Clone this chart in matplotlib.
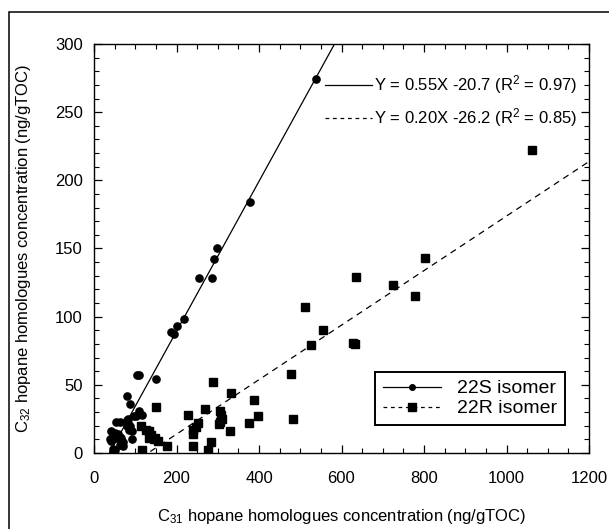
import numpy as np
import matplotlib
matplotlib.use('Agg')
import matplotlib.pyplot as plt
import matplotlib.ticker as mticker
from matplotlib.patches import Rectangle
from matplotlib.lines import Line2D

# 22S isomer (C31, C32) in ng/gTOC
s_c31 = [538, 377, 297, 292, 255, 285, 219, 201, 186, 194,
         104, 109, 150, 79, 87, 109, 103, 97, 116, 83, 79, 53, 62,
         83, 87, 79, 84, 91, 42, 50, 45, 58, 62, 54, 66, 70, 38, 42, 91,
         62, 66, 46, 52, 46, 70]
s_c32 = [274, 184, 150, 142, 128, 128, 98, 93, 89, 87,
         57, 57, 54, 42, 36, 31, 27, 27, 28, 25, 24, 23, 23,
         22, 20, 20, 17, 16, 16, 15, 13, 14, 12, 11, 11, 8, 10, 9, 10,
         6, 7, 3, 2, 1, 5]

# 22R isomer
r_c31 = [115, 126, 133, 139, 134, 146, 156, 149, 151, 177, 117,
         227, 288, 333, 387, 268, 306, 309, 310, 306, 304,
         253, 248, 241, 240, 329, 376, 397, 283, 241, 276,
         478, 483, 511, 554, 527, 628, 632, 636, 726, 777, 802, 1063]
r_c32 = [20, 17, 16, 13, 11, 10, 9, 11, 34, 5, 2,
         28, 52, 44, 39, 32, 31, 28, 25, 23, 21,
         22, 19, 17, 14, 16, 22, 27, 8, 5, 2,
         58, 25, 107, 90, 79, 81, 80, 129, 123, 115, 143, 222]

# regression lines: slope, intercept, r2
s_fit = (0.55, -20.7, 0.97)
r_fit = (0.20, -26.2, 0.85)

plt.rcParams['font.family'] = ['Liberation Sans', 'DejaVu Sans']
plt.rcParams['mathtext.fontset'] = 'custom'
plt.rcParams['mathtext.rm'] = 'Liberation Sans'
plt.rcParams['mathtext.it'] = 'Liberation Sans'

fig = plt.figure(figsize=(6.09, 5.29), dpi=100)
ax = fig.add_axes([94 / 609, 1 - 453 / 529, 495 / 609, 409 / 529])

# outer frame (only left and top edges are visible)
fig.patches.append(Rectangle((8.5 / 609, -0.2), 1.5, 0.2 + 1 - 12 / 529,
                             transform=fig.transFigure, fill=False,
                             edgecolor='black', linewidth=1.1))

xs = np.array([0, 1200])
ax.plot(xs, s_fit[0] * xs + s_fit[1], color='black', lw=0.9)
ax.plot(xs, r_fit[0] * xs + r_fit[1], color='black', lw=0.9, ls=(0, (5, 4)))

ax.plot(s_c31, s_c32, 'o', color='black', markersize=5.2, ls='none')
ax.plot(r_c31, r_c32, 's', color='black', markersize=5.4, ls='none')

ax.set_xlim(0, 1200)
ax.set_ylim(0, 300)
ax.xaxis.set_major_locator(mticker.MultipleLocator(200))
ax.xaxis.set_minor_locator(mticker.MultipleLocator(50))
ax.yaxis.set_major_locator(mticker.MultipleLocator(50))
ax.yaxis.set_minor_locator(mticker.MultipleLocator(10))
ax.tick_params(which='both', direction='in', top=True, right=True, labelsize=12)
ax.tick_params(which='major', length=6, width=0.9)
ax.tick_params(which='minor', length=3.5, width=0.8)
ax.tick_params(axis='x', pad=13)
ax.tick_params(axis='y', pad=8)
for sp in ax.spines.values():
    sp.set_linewidth(1.0)

ax.set_xlabel(r'C$_\mathrm{31}$ hopane homologues concentration (ng/gTOC)', fontsize=12, labelpad=15)
ax.set_ylabel(r'C$_\mathrm{32}$ hopane homologues concentration (ng/gTOC)', fontsize=12, labelpad=16)

# equations legend at top
eq_handles = [Line2D([], [], color='black', lw=0.9),
              Line2D([], [], color='black', lw=0.9, ls=(0, (3, 3)))]
eq_labels = [f'Y = {s_fit[0]:.2f}X {s_fit[1]:.1f} (R$^2$ = {s_fit[2]:.2f})',
             f'Y = {r_fit[0]:.2f}X {r_fit[1]:.1f} (R$^2$ = {r_fit[2]:.2f})']
leg1 = ax.legend(eq_handles, eq_labels, loc='upper right', bbox_to_anchor=(0.975, 0.928),
                 frameon=False, fontsize=12, handlelength=2.8, handletextpad=0.1,
                 labelspacing=0.6, borderpad=0, borderaxespad=0)
ax.add_artist(leg1)

iso_handles = [Line2D([], [], color='black', lw=0.9, marker='o', markersize=4),
               Line2D([], [], color='black', lw=0.9, ls=(0, (3, 3)), marker='s', markersize=5.5)]
leg2 = ax.legend(iso_handles, ['22S isomer', '22R isomer'], loc='lower right',
                 bbox_to_anchor=(0.951, 0.068), fontsize=14, handlelength=3.0,
                 handletextpad=0.8, fancybox=False, framealpha=1, borderaxespad=0,
                 labelspacing=0.12, borderpad=0.4)
leg2.get_frame().set_edgecolor('black')
leg2.get_frame().set_linewidth(1.4)

fig.savefig('out.png', dpi=100)
